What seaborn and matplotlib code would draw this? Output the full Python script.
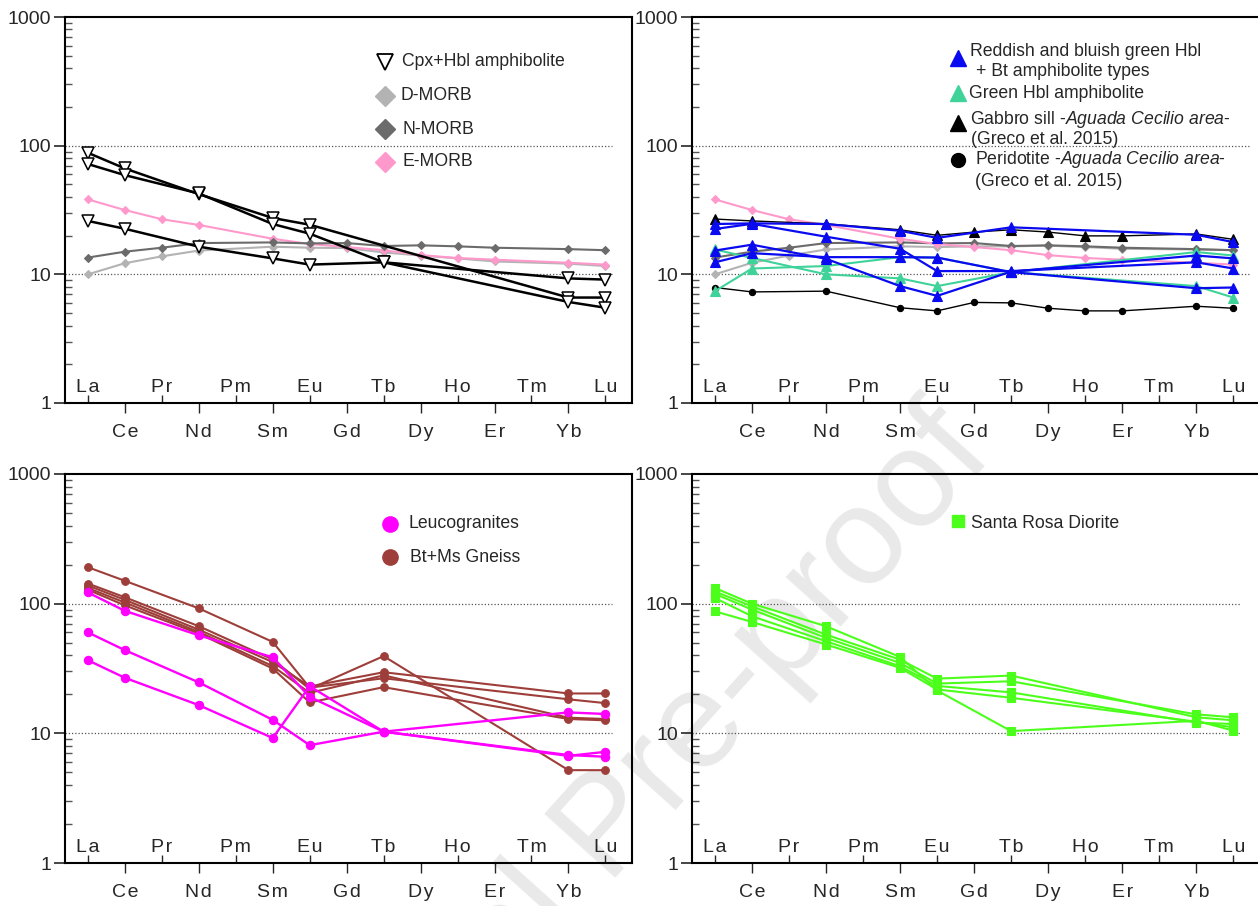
import numpy as np
import pandas as pd
import matplotlib
matplotlib.use("Agg")
import matplotlib.pyplot as plt
from matplotlib.lines import Line2D
from matplotlib.ticker import NullFormatter
import seaborn as sns

# chondrite-normalised REE values
ELEMENTS = ['La', 'Ce', 'Pr', 'Nd', 'Pm', 'Sm', 'Eu', 'Gd', 'Tb', 'Dy', 'Ho', 'Er', 'Tm', 'Yb', 'Lu']
MORB_EL = ['La', 'Ce', 'Pr', 'Nd', 'Sm', 'Eu', 'Gd', 'Tb', 'Dy', 'Ho', 'Er', 'Yb', 'Lu']
SAMPLE_EL = ['La', 'Ce', 'Nd', 'Sm', 'Eu', 'Tb', 'Yb', 'Lu']
GRECO_EL = ['La', 'Ce', 'Nd', 'Sm', 'Eu', 'Gd', 'Tb', 'Dy', 'Ho', 'Er', 'Yb', 'Lu']

d_morb = [10.0, 12.2, 13.8, 15.3, 16.4, 16.1, 16.0, 14.8, 14.0, 13.3, 12.6, 12.1, 11.6]
d_morb_b = [10.0, 12.3, 14.0, 15.6, 16.5, 16.3, 16.5, 16.5, 16.7, 16.3, 15.8, 15.6, 15.4]
n_morb = [13.5, 15.0, 16.1, 17.5, 17.7, 17.4, 17.5, 16.6, 16.8, 16.5, 16.1, 15.7, 15.4]
e_morb = [38.2, 31.6, 26.8, 24.2, 18.9, 17.2, 16.3, 15.4, 14.1, 13.4, 13.0, 12.3, 11.9]

cpx_hbl = [
    [88, 66.5, 42, 27.4, 24.3, np.nan, 6.6, 6.6],
    [72, 59, 42.5, 24.6, 20.7, 12.4, 6.1, 5.5],
    [26, 22.6, 16.4, 13.3, 11.9, 12.4, 9.3, 9.1],
]

reddish_hbl = [
    [24.6, 24.9, 24.6, 21.8, 19.2, 23.2, 20.3, 17.8],
    [22.5, 24.7, 19.6, 15.8, 10.6, 10.6, 12.4, 11.1],
    [15.3, 17.0, 13.2, 8.1, 6.8, 10.5, 14.0, 13.3],
    [12.4, 14.6, 13.6, 13.6, 13.5, 10.4, 7.8, 7.9],
]
green_hbl = [
    [15.6, 13.4, 10.0, 9.3, 8.1, 10.4, 8.1, 6.6],
    [7.4, 11.1, 11.6, 13.6, 13.5, 10.4, 14.9, 14.0],
]
gabbro_sill = [26.9, 26.0, 24.7, 22.2, 20.1, 21.3, 22.2, 21.3, 19.9, 19.9, 20.6, 18.7]
peridotite = [7.9, 7.3, 7.4, 5.5, 5.2, 6.05, 6.0, 5.45, 5.2, 5.2, 5.65, 5.45]

leucogranites = [
    [122, 88, 57, 38.6, 19.1, 10.3, 6.7, 7.2],
    [60, 43.8, 24.7, 12.7, 8.1, 10.3, 14.5, 14.1],
    [36.6, 26.8, 16.5, 9.2, 23.1, 10.3, 6.8, 6.6],
]
gneiss = [
    [191, 150, 92, 50.7, 22.5, 26.6, 18.3, 17.1],
    [143, 112, 67, 37.1, 22.0, 39.4, 5.2, 5.2],
    [138, 107, 63, 35.4, 23.0, 29.6, 20.3, 20.3],
    [132, 102, 60.5, 33.0, 20.5, 28.0, 13.2, 12.9],
    [128, 97, 58.8, 31.6, 17.3, 22.7, 12.9, 12.6],
]

diorite = [
    [132, 100, 67, 38.8, 21.4, 10.4, 12.5, 10.5],
    [124, 95.4, 57.7, 37.0, 26.4, 27.9, 13.3, 12.6],
    [119, 90, 54.5, 34.9, 24.2, 25.2, 14.0, 13.3],
    [110.6, 80, 51.3, 32.9, 23.2, 20.7, 12.1, 11.8],
    [87.3, 72.3, 48.4, 32.0, 21.8, 18.8, 12.3, 11.1],
]

W, H = 1258, 906
sns.set_style("ticks")
plt.rcParams['font.family'] = ['Liberation Sans', 'DejaVu Sans']
plt.rcParams['mathtext.fontset'] = 'custom'
plt.rcParams['mathtext.rm'] = 'Liberation Sans'
plt.rcParams['mathtext.it'] = 'Liberation Sans:italic'
plt.rcParams['mathtext.bf'] = 'Liberation Sans:bold'

fig = plt.figure(figsize=(W / 100, H / 100), dpi=100)


def rect(l, t, r, b):
    return [l / W, 1 - b / H, (r - l) / W, (b - t) / H]


def fxy(x, y):
    return (x / W, 1 - y / H)


def spaced(name):
    # the element labels are drawn with a little extra letter spacing
    return '\u200a'.join(name)


def draw(ax, elements, values, color, marker, ms, lw, mfc=None, mec=None, mew=0.8, z=3):
    df = pd.DataFrame({'x': [ELEMENTS.index(e) for e in elements], 'y': values}).dropna()
    sns.lineplot(data=df, x='x', y='y', ax=ax, color=color, lw=lw, marker=marker,
                 markersize=ms, markerfacecolor=mfc or color, markeredgecolor=mec or color,
                 markeredgewidth=mew, estimator=None, sort=False, legend=False, zorder=z)


def style_axes(ax, grid_end):
    ax.set_facecolor('none')
    ax.set_yscale('log')
    ax.set_ylim(1, 1000)
    ax.set_xlim(-0.62, 14.72)
    ax.set_xlabel('')
    ax.set_ylabel('')
    for s in ax.spines.values():
        s.set_linewidth(1.5)
        s.set_color('black')
    even = list(range(1, 15, 2))
    odd = list(range(0, 15, 2))
    ax.set_xticks(even)
    ax.set_xticklabels([spaced(ELEMENTS[i]) for i in even])
    ax.set_xticks(odd, minor=True)
    ax.set_xticklabels([spaced(ELEMENTS[i]) for i in odd], minor=True)
    ax.tick_params(axis='x', which='major', direction='out', length=7, width=1, pad=8, labelsize=14)
    ax.tick_params(axis='x', which='minor', direction='in', length=6, width=1, pad=-17, labelsize=14)
    ax.set_yticks([1, 10, 100, 1000])
    ax.set_yticklabels(['1', '10', '100', '1000'])
    ax.yaxis.set_minor_formatter(NullFormatter())
    ax.tick_params(axis='y', which='major', direction='out', length=8, width=1.2, pad=2, labelsize=14)
    ax.tick_params(axis='y', which='minor', direction='in', length=5, width=1, color='#555555')
    for v in (10, 100):
        ax.axhline(v, xmin=0, xmax=grid_end, color='#555555', lw=0.9, ls=(0, (1, 1.6)), zorder=1)


def leg_marker(x, y, marker, ms, fc, ec=None, mew=1.0):
    fx, fy = fxy(x, y)
    fig.add_artist(Line2D([fx], [fy], transform=fig.transFigure, marker=marker, markersize=ms,
                          markerfacecolor=fc, markeredgecolor=ec or fc, markeredgewidth=mew,
                          linestyle='none'))


def leg_text(x, y, s):
    fx, fy = fxy(x, y)
    fig.text(fx, fy, s, fontsize=12.7, ha='left', va='center')


C_DM, C_NM, C_EM = '#b3b3b3', '#6b6b6b', '#ff99cc'
C_BLUE, C_GREEN = '#0a0af0', '#3fd39a'
C_MAG, C_BROWN, C_LIME = '#ff00ff', '#9e3e3a', '#4cff1a'

# faint watermark behind the panels
fig.text(610 / W, 1 - 830 / H, 'Journal Pre-proof', rotation=48, fontsize=100, color='#e9e9e9',
         ha='center', va='center', rotation_mode='anchor', zorder=-1)

# panel 1
ax1 = fig.add_axes(rect(65, 17, 632, 403))
draw(ax1, MORB_EL, d_morb, C_DM, 'D', 4.5, 1.5)
draw(ax1, MORB_EL, e_morb, C_EM, 'D', 4.5, 1.5)
draw(ax1, MORB_EL, n_morb, C_NM, 'D', 4.5, 1.5)
for s in cpx_hbl:
    draw(ax1, SAMPLE_EL, s, 'black', 'v', 9, 1.8, mfc='white', mec='black', mew=1.1, z=4)
style_axes(ax1, 0.965)

# panel 2
ax2 = fig.add_axes(rect(692, 17, 1260, 403))
draw(ax2, MORB_EL, d_morb_b, C_DM, 'D', 4.5, 1.5)
draw(ax2, MORB_EL, n_morb, C_NM, 'D', 4.5, 1.5)
draw(ax2, MORB_EL, e_morb, C_EM, 'D', 4.5, 1.5)
draw(ax2, GRECO_EL, peridotite, 'black', 'o', 4.5, 1.0)
draw(ax2, GRECO_EL, gabbro_sill, 'black', '^', 7, 1.0)
for s in green_hbl:
    draw(ax2, SAMPLE_EL, s, C_GREEN, '^', 6.5, 1.5)
for s in reddish_hbl:
    draw(ax2, SAMPLE_EL, s, C_BLUE, '^', 6.5, 1.6)
style_axes(ax2, 0.985)

# panel 3
ax3 = fig.add_axes(rect(65, 474, 632, 863))
for s in gneiss:
    draw(ax3, SAMPLE_EL, s, C_BROWN, 'o', 5.5, 1.5)
for s in leucogranites:
    draw(ax3, SAMPLE_EL, s, C_MAG, 'o', 6, 1.7)
style_axes(ax3, 0.965)

# panel 4
ax4 = fig.add_axes(rect(692, 474, 1260, 863))
for s in diorite:
    draw(ax4, SAMPLE_EL, s, C_LIME, 's', 5.5, 1.5)
style_axes(ax4, 0.965)

# legends
leg_marker(385, 62, 'v', 12, 'white', 'black', 1.3)
leg_text(402, 62, 'Cpx+Hbl amphibolite')
leg_marker(385, 96, 'D', 10, C_DM)
leg_text(401, 96, 'D-MORB')
leg_marker(385, 129, 'D', 10, C_NM)
leg_text(402, 129, 'N-MORB')
leg_marker(385, 162, 'D', 10, C_EM)
leg_text(402, 162, 'E-MORB')

it = r'$\mathit{Aguada\ Cecilio\ area}$'
leg_marker(958, 58, '^', 12, C_BLUE)
leg_text(970, 52, 'Reddish and bluish green Hbl')
leg_text(976, 71, '+ Bt amphibolite types')
leg_marker(958, 93, '^', 12, C_GREEN)
leg_text(969, 94, 'Green Hbl amphibolite')
leg_marker(958, 123, '^', 12, 'black')
leg_text(970, 119, 'Gabbro sill -' + it + '-')
leg_text(971, 139, '(Greco et al. 2015)')
leg_marker(958, 160, 'o', 10, 'black')
leg_text(975, 160, 'Peridotite -' + it + '-')
leg_text(975, 181, '(Greco et al. 2015)')

leg_marker(390, 524, 'o', 11, C_MAG)
leg_text(408, 524, 'Leucogranites')
leg_marker(390, 557, 'o', 11, C_BROWN)
leg_text(410, 557, 'Bt+Ms Gneiss')

leg_marker(958, 521, 's', 9, C_LIME)
leg_text(971, 524, 'Santa Rosa Diorite')

fig.savefig('out.png', dpi=100)
